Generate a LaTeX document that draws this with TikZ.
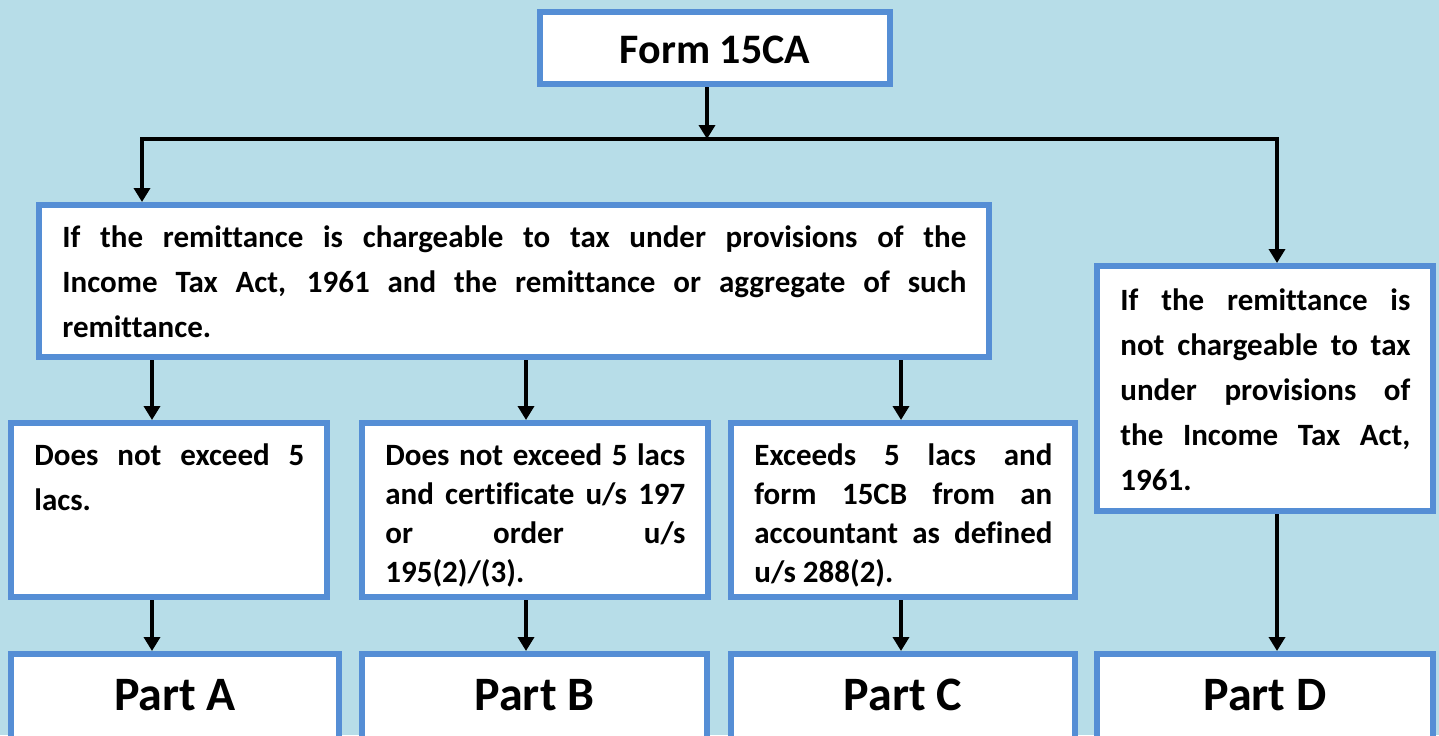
\documentclass[tikz,border=0pt]{standalone}
\usepackage{fontspec}
\setmainfont{Carlito}[Ligatures=NoCommon]
\usetikzlibrary{arrows.meta,positioning,fit,calc}

\definecolor{bgblue}{RGB}{183,221,232}
\definecolor{boxblue}{RGB}{85,142,213}

\begin{document}
\begin{tikzpicture}[x=0.5pt, y=0.5pt,
  box/.style={draw=boxblue, line width=3pt, fill=white, inner sep=0pt},
  bodytext/.style={anchor=base west, inner sep=0pt, align=justify,
    font=\bfseries\fontsize{15.5}{22.5}\selectfont,
    execute at begin node={\hyphenpenalty=10000\relax\exhyphenpenalty=10000\relax}},
  tighttext/.style={bodytext, font=\bfseries\fontsize{15.5}{19.6}\selectfont},
  formtext/.style={anchor=base, inner sep=0pt, font=\bfseries\fontsize{21}{25}\selectfont},
  parttext/.style={anchor=base, inner sep=0pt, font=\bfseries\fontsize{24}{28}\selectfont},
  arr/.style={line width=2pt, -{Triangle[width=8pt,length=7pt]}}]

  % Page and background
  \useasboundingbox (0,0) rectangle (1439,-735);
  \clip (0,0) rectangle (1439,-735);
  \fill[bgblue] (0,0) rectangle (1439,-735);

  % Columns of the connectors
  \coordinate (xL) at (142,0);
  \coordinate (xA) at (152,0);
  \coordinate (xB) at (526,0);
  \coordinate (xC) at (901,0);
  \coordinate (xD) at (1277,0);
  \coordinate (bus) at (707,-139);

  % Top box
  \node[box, fit={(540,-12) (890,-84)}] (form) {};
  \node[formtext] (formlbl) at ($(form.north)+(0,-54)$) {Form 15CA};

  % Conditions
  \node[box, fit={(39,-205) (989,-357)}] (cond) {};
  \node[bodytext, text width=452pt] (condlbl) at ($(cond.north west)+(26,-45)$)
    {If the remittance is chargeable to tax under provisions of the\linebreak
     Income Tax Act, 1961 and the remittance or aggregate of such\linebreak
     remittance.};

  \node[box, fit={(1097,-266) (1433,-511)}] (condD) {};
  \node[bodytext, text width=145pt] (condDlbl) at ($(condD.north west)+(26,-47)$)
    {If the remittance is\linebreak not chargeable to tax\linebreak
     under provisions of\linebreak the Income Tax Act,\linebreak 1961.};

  % Amount boxes
  \node[box, fit={(11,-423) (327,-597)}] (boxA) {};
  \node[bodytext, text width=135pt] (boxAlbl) at ($(boxA.north west)+(26,-45)$)
    {Does not exceed 5\linebreak lacs.};

  \node[box, fit={(362,-423) (708,-597)}] (boxB) {};
  \node[tighttext, text width=150pt] (boxBlbl) at ($(boxB.north west)+(26,-45)$)
    {Does not exceed 5 lacs\linebreak and certificate u/s 197\linebreak
     or order u/s\linebreak 195(2)/(3).};

  \node[box, fit={(731,-423) (1075,-597)}] (boxC) {};
  \node[tighttext, text width=149pt] (boxClbl) at ($(boxC.north west)+(26,-45)$)
    {Exceeds 5 lacs and\linebreak form 15CB from an\linebreak
     accountant as defined\linebreak u/s 288(2).};

  % Parts
  \node[box, fit={(11,-654) (339,-760)}] (partA) {};
  \node[box, fit={(362,-654) (707,-760)}] (partB) {};
  \node[box, fit={(731,-654) (1075,-760)}] (partC) {};
  \node[box, fit={(1097,-654) (1433,-760)}] (partD) {};
  \foreach \p in {A,B,C,D}
    \node[parttext] (part\p lbl) at ($(part\p.north)+(0,-59)$) {Part \p};

  % Connectors
  \draw[arr] (bus |- form.south) -- (bus);
  \draw[arr] (bus) -| (xL |- cond.north);
  \draw[arr] (bus) -| (xD |- condD.north);
  \foreach \p in {A,B,C} {
    \draw[arr] (x\p |- cond.south) -- (x\p |- box\p.north);
    \draw[arr] (x\p |- box\p.south) -- (x\p |- part\p.north);
  }
  \draw[arr] (xD |- condD.south) -- (xD |- partD.north);

\end{tikzpicture}
\end{document}
